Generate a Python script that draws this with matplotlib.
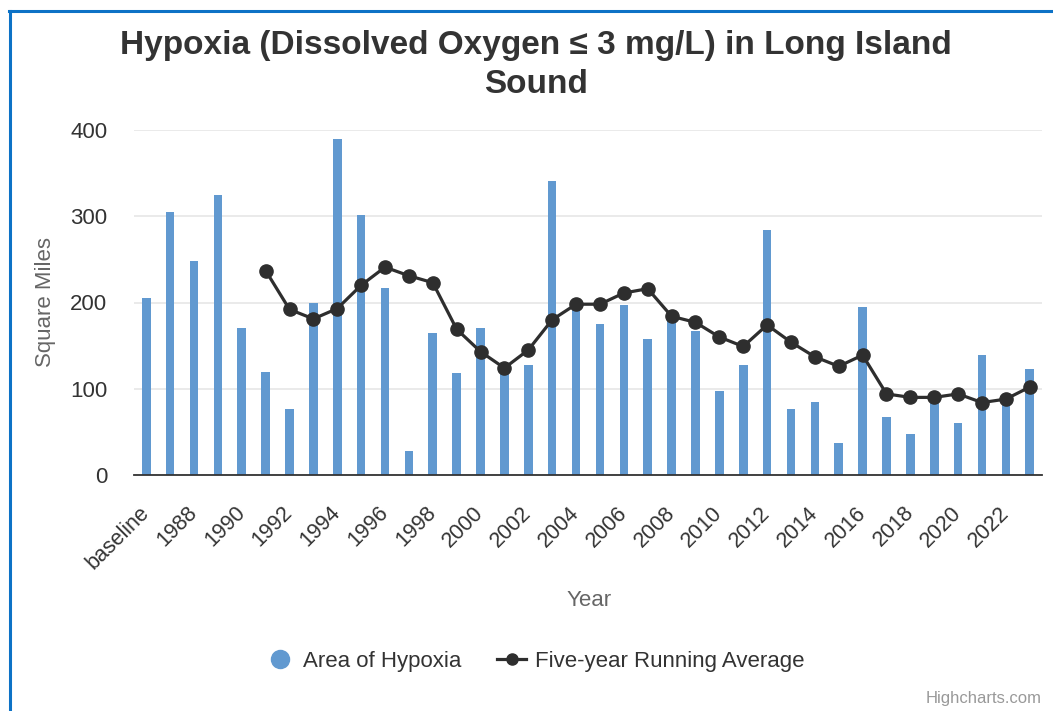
import matplotlib
matplotlib.use("Agg")
import matplotlib.pyplot as plt
from matplotlib.lines import Line2D

plt.rcParams['font.family'] = ['Liberation Sans', 'DejaVu Sans']

categories = ["baseline"] + [str(y) for y in range(1987, 2024)]
area = [205, 305, 248, 325, 171, 120, 77, 200, 390, 301, 217, 28, 165, 118,
        171, 127, 128, 341, 196, 175, 197, 158, 178, 167, 97, 128, 284, 77,
        85, 37, 195, 67, 48, 93, 60, 139, 91, 123]
running_avg = [None, None, None, None, None,
               237, 192, 181, 193, 220, 241, 231, 223, 169, 143, 124, 145,
               180, 198, 198, 211, 216, 184, 177, 160, 149, 174, 154, 137,
               126, 139, 94, 90, 90, 94, 84, 88, 102]

W, H = 1053, 711
fig = plt.figure(figsize=(W / 100, H / 100), dpi=100)
fig.patch.set_facecolor('white')

# blue border
fig.add_artist(Line2D([9.5 / W, 9.5 / W], [0, 1 - 10.5 / H], color='#0d72c6', lw=2.2,
                      transform=fig.transFigure))
fig.add_artist(Line2D([8.5 / W, 1], [1 - 10.5 / H, 1 - 10.5 / H], color='#0d72c6', lw=2.2,
                      transform=fig.transFigure))

left, right, top, bottom = 134.3, 1041.7, 130, 475
ax = fig.add_axes([left / W, 1 - bottom / H, (right - left) / W, (bottom - top) / H])

x = list(range(len(categories)))
ax.bar(x, area, width=0.36, color='#6199d0', zorder=2)

xs = [i for i, v in zip(x, running_avg) if v is not None]
ys = [v for v in running_avg if v is not None]
ax.plot(xs, ys, color='#2e2e2e', lw=2.3, marker='o', markersize=9.5, zorder=3)

ax.set_xlim(-0.5, len(categories) - 0.5)
ax.set_ylim(0, 400)
ax.set_yticks([0, 100, 200, 300, 400])
ax.grid(axis='y', color='#e6e6e6', lw=1.2, zorder=0)
ax.set_axisbelow(True)
for s in ['top', 'right', 'left']:
    ax.spines[s].set_visible(False)
ax.spines['bottom'].set_color('#333333')
ax.spines['bottom'].set_linewidth(1.3)
ax.spines['bottom'].set_zorder(4)

ticks = x[::2]
ax.set_xticks(ticks)
ax.set_xticklabels([categories[i] for i in ticks], rotation=45, ha='right',
                   va='center', rotation_mode='anchor', fontsize=15.5, color='#333333')
ax.tick_params(axis='x', length=0, pad=25)
ax.tick_params(axis='y', length=0, pad=19.5, labelsize=16, labelcolor='#333333')

fig.text(45 / W, 1 - 302 / H, "Square Miles", rotation=90, ha='center', va='center',
         fontsize=16, color='#666666')
fig.text(589 / W, 1 - 600 / H, "Year", ha='center', va='center', fontsize=16,
         color='#666666')

fig.text(536 / W, 1 - 65 / H, "Hypoxia (Dissolved Oxygen \u2264 3 mg/L) in Long Island\nSound",
         ha='center', va='center', fontsize=24, fontweight='bold', color='#333333',
         linespacing=1.3)

handles = [Line2D([], [], color='none', marker='o', markersize=13, markerfacecolor='#6199d0',
                  markeredgecolor='#6199d0'),
           Line2D([], [], color='#2e2e2e', lw=2.3, marker='o', markersize=8)]
leg = fig.legend(handles, ["Area of Hypoxia", "Five-year Running Average"],
                 loc='center', bbox_to_anchor=(535 / W, 1 - 661 / H), ncol=2, frameon=False,
                 fontsize=16, handlelength=1.3, columnspacing=1.6, handletextpad=0.4)
for t in leg.get_texts():
    t.set_color('#333333')

fig.text(1042 / W, 1 - 698 / H, "Highcharts.com", ha='right', va='center', fontsize=12,
         color='#999999')

fig.savefig("out.png", dpi=100)
